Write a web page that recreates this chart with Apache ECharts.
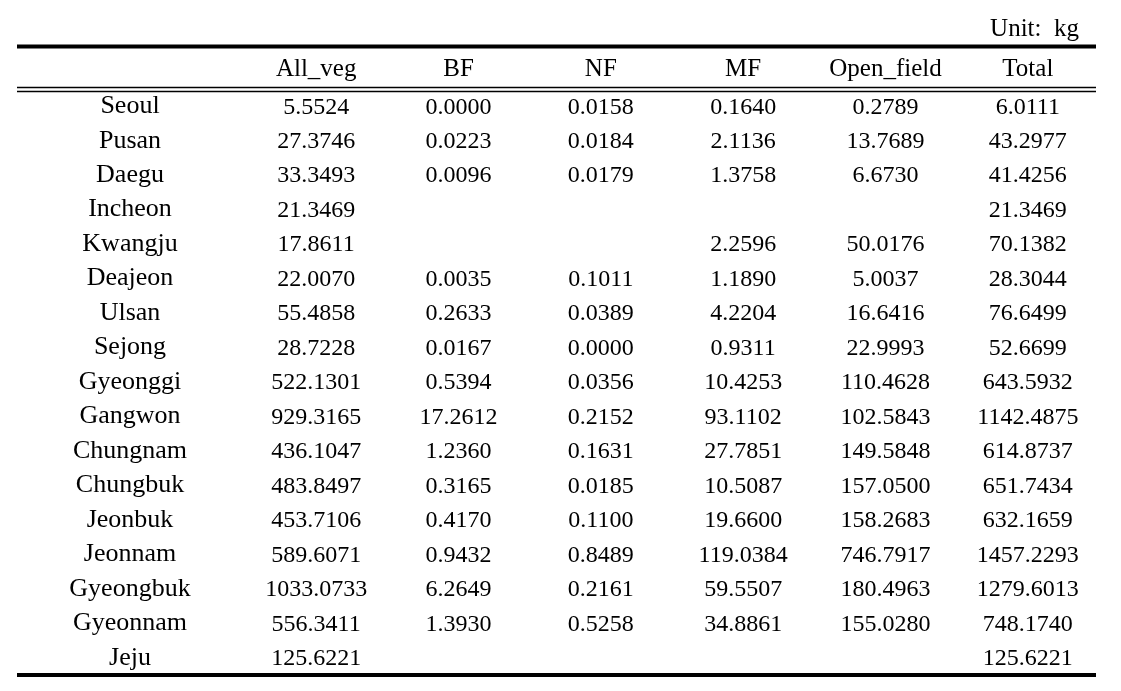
<!DOCTYPE html>
<html>
<head>
<meta charset="utf-8">
<script src="https://cdn.jsdelivr.net/npm/echarts@6/dist/echarts.min.js"></script>
<style>
  html, body { margin: 0; padding: 0; background: #fff; }
  #chart { width: 1121px; height: 691px; }
</style>
</head>
<body>
<div id="chart"></div>
<script>
// table data, blanks are null
const regions = ['Seoul', 'Pusan', 'Daegu', 'Incheon', 'Kwangju', 'Deajeon', 'Ulsan', 'Sejong',
  'Gyeonggi', 'Gangwon', 'Chungnam', 'Chungbuk', 'Jeonbuk', 'Jeonnam', 'Gyeongbuk', 'Gyeonnam', 'Jeju'];
const columns = ['All_veg', 'BF', 'NF', 'MF', 'Open_field', 'Total'];

const allVeg = [5.5524, 27.3746, 33.3493, 21.3469, 17.8611, 22.0070, 55.4858, 28.7228,
  522.1301, 929.3165, 436.1047, 483.8497, 453.7106, 589.6071, 1033.0733, 556.3411, 125.6221];
const bf = [0.0000, 0.0223, 0.0096, null, null, 0.0035, 0.2633, 0.0167,
  0.5394, 17.2612, 1.2360, 0.3165, 0.4170, 0.9432, 6.2649, 1.3930, null];
const nf = [0.0158, 0.0184, 0.0179, null, null, 0.1011, 0.0389, 0.0000,
  0.0356, 0.2152, 0.1631, 0.0185, 0.1100, 0.8489, 0.2161, 0.5258, null];
const mf = [0.1640, 2.1136, 1.3758, null, 2.2596, 1.1890, 4.2204, 0.9311,
  10.4253, 93.1102, 27.7851, 10.5087, 19.6600, 119.0384, 59.5507, 34.8861, null];
const openField = [0.2789, 13.7689, 6.6730, null, 50.0176, 5.0037, 16.6416, 22.9993,
  110.4628, 102.5843, 149.5848, 157.0500, 158.2683, 746.7917, 180.4963, 155.0280, null];
const total = [6.0111, 43.2977, 41.4256, 21.3469, 70.1382, 28.3044, 76.6499, 52.6699,
  643.5932, 1142.4875, 614.8737, 651.7434, 632.1659, 1457.2293, 1279.6013, 748.1740, 125.6221];

const columnValues = [allVeg, bf, nf, mf, openField, total];
const unitText = 'Unit:  kg';

const FONT = '"Liberation Serif", "DejaVu Serif", serif';
const TEXT = '#000';

const chart = echarts.init(document.getElementById('chart'));

// one invisible scatter per column, the label is the cell text
const series = columnValues.map((vals, c) => ({
  type: 'scatter',
  symbolSize: 0,
  itemStyle: { color: 'rgba(0,0,0,0)', opacity: 1 },
  silent: true,
  data: vals.map((v, r) => (v === null ? null : [columns[c], regions[r], v])).filter(d => d !== null),
  label: {
    show: true,
    position: 'inside',
    color: TEXT,
    textBorderWidth: 0,
    fontFamily: FONT,
    fontSize: 24,
    offset: [0, 1],
    formatter: p => p.value[2].toFixed(4)
  }
}));

const option = {
  animation: false,
  title: {
    text: unitText,
    right: 37,
    top: 12,
    textStyle: { fontFamily: FONT, fontSize: 25, fontWeight: 'normal', color: TEXT }
  },
  grid: { left: 245, right: 22, top: 89, bottom: 16 },
  xAxis: {
    type: 'category',
    position: 'top',
    data: columns,
    axisLine: { show: false },
    axisTick: { show: false },
    splitLine: { show: false },
    axisLabel: {
      interval: 0,
      margin: 20,
      verticalAlign: 'middle',
      fontFamily: FONT,
      fontSize: 25,
      color: TEXT
    }
  },
  yAxis: {
    type: 'category',
    inverse: true,
    data: regions,
    axisLine: { show: false },
    axisTick: { show: false },
    splitLine: { show: false },
    axisLabel: {
      interval: 0,
      margin: 115,
      align: 'center',
      fontFamily: FONT,
      fontSize: 26,
      color: TEXT
    }
  },
  graphic: [
    { type: 'line', shape: { x1: 17, y1: 46.5, x2: 1096, y2: 46.5 }, style: { stroke: '#000', lineWidth: 4 } },
    { type: 'line', shape: { x1: 17, y1: 87.5, x2: 1096, y2: 87.5 }, style: { stroke: '#000', lineWidth: 1.5 } },
    { type: 'line', shape: { x1: 17, y1: 91.5, x2: 1096, y2: 91.5 }, style: { stroke: '#000', lineWidth: 1.5 } },
    { type: 'line', shape: { x1: 17, y1: 675, x2: 1096, y2: 675 }, style: { stroke: '#000', lineWidth: 4 } }
  ],
  series: series
};

chart.setOption(option);
</script>
</body>
</html>
